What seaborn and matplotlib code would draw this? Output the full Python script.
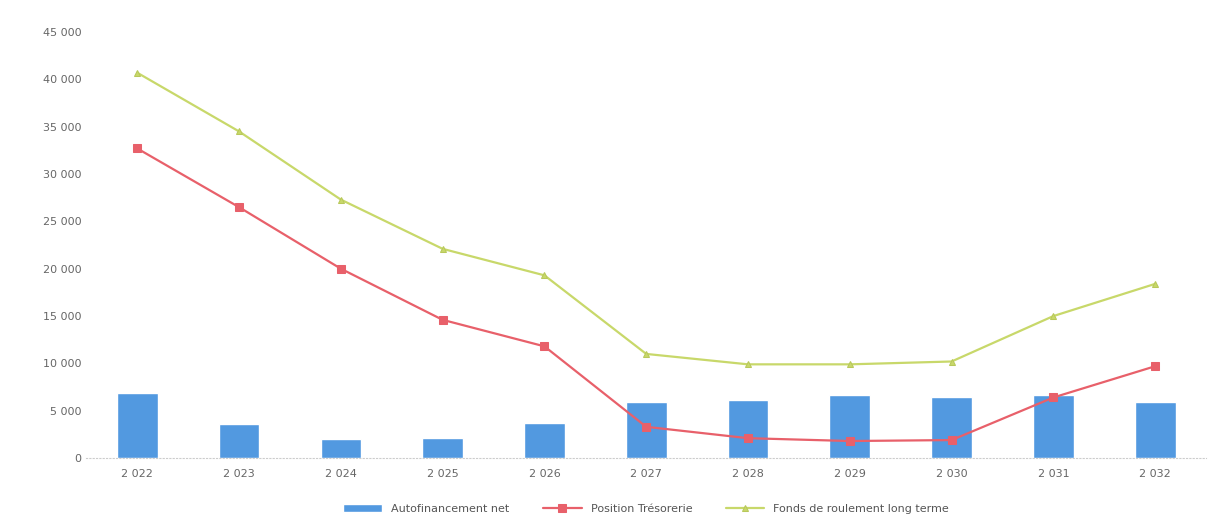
import matplotlib
matplotlib.use("Agg")
import matplotlib.pyplot as plt
import seaborn as sns
import pandas as pd
import numpy as np
from matplotlib.ticker import FuncFormatter

years = ["2 022", "2 023", "2 024", "2 025", "2 026", "2 027", "2 028", "2 029", "2 030", "2 031", "2 032"]
autofinancement = [6900, 3600, 2000, 2100, 3700, 5900, 6100, 6650, 6450, 6650, 5900]
tresorerie = [32700, 26500, 20000, 14600, 11800, 3300, 2100, 1800, 1900, 6400, 9700]
fonds_roulement = [40700, 34500, 27300, 22100, 19300, 11000, 9900, 9900, 10200, 15000, 18400]
labels = ["Autofinancement net", "Position Trésorerie", "Fonds de roulement long terme"]

sns.set_theme(style="white")
plt.rcParams['font.family'] = ['DejaVu Sans']

df = pd.DataFrame({"annee": years, "auto": autofinancement, "treso": tresorerie, "frlt": fonds_roulement})

fig = plt.figure(figsize=(12.17, 5.17), dpi=100)
ax = fig.add_axes([0.071, 0.114, 0.92, 0.824])

sns.barplot(data=df, x="annee", y="auto", color="#5299e0", width=0.4, ax=ax,
            label=labels[0], saturation=1)
xs = np.arange(len(years))
sns.lineplot(x=xs, y=tresorerie, color="#e8606a", marker="s", markersize=6,
             markeredgecolor="#e8606a", linewidth=1.6, ax=ax, label=labels[1])
sns.lineplot(x=xs, y=fonds_roulement, color="#c8d86a", marker="^", markersize=5,
             markeredgecolor="#b8c85a", linewidth=1.6, ax=ax, label=labels[2])

ax.set_xlim(-0.5, len(years) - 0.5)
ax.set_ylim(0, 45000)
ax.set_yticks(np.arange(0, 45001, 5000))
ax.yaxis.set_major_formatter(FuncFormatter(lambda v, p: "0" if v == 0 else f"{int(v):,}".replace(",", " ")))
ax.set_xticks(xs)
ax.set_xticklabels(years)
ax.tick_params(axis="both", labelsize=8, colors="#666666", length=0)
ax.tick_params(axis="x", pad=8)
ax.set_xlabel("")
ax.set_ylabel("")
for s in ["top", "right", "left"]:
    ax.spines[s].set_visible(False)
ax.spines["bottom"].set_color("#cccccc")
ax.spines["bottom"].set_linestyle((0, (1, 2)))
ax.spines["bottom"].set_linewidth(0.8)

handles, lbls = ax.get_legend_handles_labels()
order = [lbls.index(l) for l in labels]
ax.legend([handles[i] for i in order], [lbls[i] for i in order],
          loc="upper center", bbox_to_anchor=(0.5, -0.085), ncol=3, frameon=False,
          fontsize=8, labelcolor="#555555", handlelength=3.5, columnspacing=3)

fig.savefig("out.png", dpi=100, facecolor="white")
